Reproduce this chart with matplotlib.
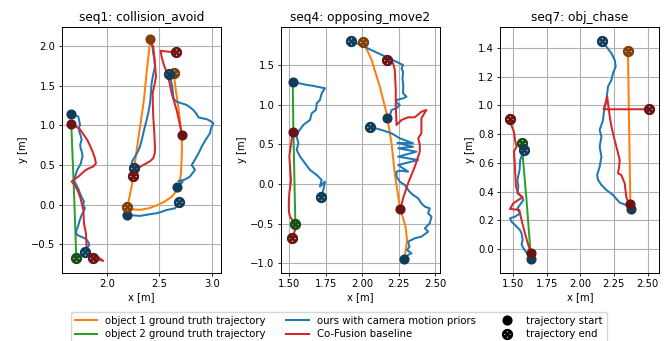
import numpy as np
import matplotlib
matplotlib.use("Agg")
import matplotlib.pyplot as plt
from matplotlib.lines import Line2D

# ---------------- data ----------------
titles = ["seq1: collision_avoid", "seq4: opposing_move2", "seq7: obj_chase"]
series_labels = ["object 1 ground truth trajectory", "object 2 ground truth trajectory",
                 "ours with camera motion priors", "Co-Fusion baseline"]
marker_labels = ["trajectory start", "trajectory end"]

# seq1 ---------------------------------------------------------------
seq1_obj1_a = [(2.413, 2.088), (2.38, 1.70), (2.352, 1.322), (2.283, 0.691), (2.235, 0.228), (2.194, -0.033)]
seq1_obj1_b = [(2.194, -0.033), (2.25, -0.06), (2.32, -0.065), (2.40, -0.045), (2.473, -0.01), (2.55, 0.04),
               (2.616, 0.10), (2.66, 0.17), (2.69, 0.25), (2.705, 0.40), (2.711, 0.565), (2.714, 0.72),
               (2.711, 0.880), (2.695, 1.06), (2.679, 1.238), (2.655, 1.45), (2.635, 1.668)]
seq1_obj2 = [(1.660, 1.019), (1.685, 0.20), (1.708, -0.677)]
seq1_ours_a = [(1.654, 1.146), (1.69, 1.13), (1.727, 1.112), (1.735, 1.06), (1.743, 1.007), (1.732, 0.96),
               (1.737, 0.923), (1.75, 0.87), (1.759, 0.818), (1.745, 0.76), (1.749, 0.712), (1.762, 0.66),
               (1.768, 0.607), (1.757, 0.56), (1.752, 0.523), (1.735, 0.48), (1.717, 0.439), (1.70, 0.37),
               (1.686, 0.312), (1.70, 0.27), (1.717, 0.228), (1.73, 0.19), (1.743, 0.144), (1.76, 0.09),
               (1.781, 0.039), (1.772, 0.0), (1.790, -0.045), (1.775, -0.09), (1.759, -0.130), (1.748, -0.17),
               (1.737, -0.214), (1.725, -0.27), (1.711, -0.319), (1.705, -0.35), (1.717, -0.382), (1.745, -0.40),
               (1.768, -0.412), (1.795, -0.43), (1.813, -0.454), (1.825, -0.48), (1.832, -0.508), (1.81, -0.55),
               (1.790, -0.593)]
seq1_ours_b = [(2.419, 2.05), (2.435, 1.98), (2.441, 1.912), (2.452, 1.83), (2.457, 1.743), (2.44, 1.64),
               (2.425, 1.533), (2.418, 1.40), (2.410, 1.280), (2.395, 1.17), (2.378, 1.070), (2.36, 0.98),
               (2.346, 0.902), (2.33, 0.81), (2.314, 0.733), (2.29, 0.66), (2.267, 0.607), (2.245, 0.56),
               (2.235, 0.523), (2.245, 0.49), (2.260, 0.460)]
seq1_ours_c = [(2.187, -0.130), (2.25, -0.135), (2.314, -0.142), (2.39, -0.125), (2.473, -0.108),
               (2.52, -0.09), (2.568, -0.067), (2.648, -0.046), (2.67, -0.01), (2.689, 0.035)]
seq1_ours_d = [(2.664, 0.227), (2.70, 0.26), (2.72, 0.285), (2.68, 0.30), (2.727, 0.31), (2.76, 0.33),
               (2.79, 0.354), (2.815, 0.40), (2.838, 0.44), (2.806, 0.50), (2.83, 0.55), (2.854, 0.607),
               (2.88, 0.67), (2.902, 0.733), (2.94, 0.82), (2.981, 0.902), (2.99, 0.96), (3.013, 1.03),
               (2.98, 1.06), (2.949, 1.08), (2.91, 1.09), (2.870, 1.104), (2.85, 1.15), (2.822, 1.196),
               (2.79, 1.23), (2.759, 1.259), (2.71, 1.28), (2.664, 1.30), (2.64, 1.33), (2.632, 1.364),
               (2.625, 1.45), (2.616, 1.533), (2.60, 1.60), (2.594, 1.646)]
seq1_cof_a = [(1.660, 1.019), (1.70, 0.99), (1.743, 0.952), (1.78, 0.88), (1.813, 0.817), (1.84, 0.74),
              (1.863, 0.670), (1.885, 0.59), (1.895, 0.523), (1.870, 0.481), (1.83, 0.46), (1.790, 0.430),
              (1.757, 0.39), (1.727, 0.354), (1.69, 0.32), (1.663, 0.291), (1.695, 0.249), (1.72, 0.18),
              (1.743, 0.102), (1.76, 0.02), (1.775, -0.067), (1.778, -0.15), (1.781, -0.235), (1.79, -0.30),
              (1.800, -0.361), (1.803, -0.45), (1.806, -0.529), (1.832, -0.614), (1.88, -0.645),
              (1.917, -0.664), (1.965, -0.710), (1.91, -0.69), (1.863, -0.677)]
seq1_cof_b = [(2.425, 2.03), (2.441, 1.996), (2.455, 1.80), (2.467, 1.617), (2.45, 1.50), (2.435, 1.407),
              (2.437, 1.25), (2.441, 1.112), (2.45, 0.92), (2.457, 0.733), (2.455, 0.65), (2.441, 0.586),
              (2.41, 0.55), (2.378, 0.523), (2.33, 0.49), (2.298, 0.460), (2.27, 0.42), (2.251, 0.367)]
seq1_cof_c = [(2.714, 0.880), (2.69, 1.04), (2.663, 1.196), (2.64, 1.30), (2.616, 1.407), (2.60, 1.51),
              (2.584, 1.617), (2.56, 1.70), (2.537, 1.785), (2.52, 1.87), (2.511, 1.944), (2.56, 1.935),
              (2.60, 1.93), (2.657, 1.925)]

# seq4 ---------------------------------------------------------------
seq4_obj1 = [(2.284, -0.946), (2.290, -0.916), (2.30, -0.80), (2.306, -0.706), (2.296, -0.538),
             (2.256, -0.285), (2.222, 0.136), (2.200, 0.515), (2.166, 0.894), (2.120, 1.230),
             (2.064, 1.567), (2.007, 1.798)]
seq4_obj2 = [(1.525, 1.29), (1.53, 0.65), (1.543, -0.503)]
seq4_ours_a = [(1.525, 1.290), (1.575, 1.27), (1.620, 1.252), (1.665, 1.24), (1.711, 1.222), (1.745, 1.210),
               (1.723, 1.146), (1.711, 1.062), (1.689, 1.020), (1.684, 0.936), (1.655, 0.894), (1.643, 0.810),
               (1.598, 0.747), (1.564, 0.662), (1.552, 0.599), (1.564, 0.515), (1.552, 0.431), (1.575, 0.347),
               (1.609, 0.263), (1.643, 0.178), (1.689, 0.115), (1.723, 0.052), (1.711, -0.032),
               (1.745, 0.031), (1.734, -0.074), (1.716, -0.167)]
seq4_ours_b = [(2.170, 0.838), (2.19, 0.87), (2.200, 0.936), (2.234, 0.957), (2.256, 0.999), (2.234, 1.03),
               (2.234, 1.062), (2.279, 1.083), (2.302, 1.104), (2.279, 1.146), (2.28, 1.25), (2.275, 1.33),
               (2.279, 1.42), (2.268, 1.46), (2.279, 1.504), (2.10, 1.66), (1.923, 1.811)]
seq4_ours_c = [(2.284, -0.946), (2.313, -0.895), (2.336, -0.874), (2.306, -0.832), (2.323, -0.79),
               (2.313, -0.727), (2.359, -0.684), (2.404, -0.664), (2.450, -0.601), (2.428, -0.558),
               (2.461, -0.495), (2.473, -0.411), (2.450, -0.369), (2.461, -0.306), (2.428, -0.285),
               (2.404, -0.243), (2.382, -0.179), (2.348, -0.138), (2.323, -0.096), (2.290, -0.011),
               (2.256, 0.031), (2.234, 0.093), (2.234, 0.157), (2.256, 0.169), (2.313, 0.157),
               (2.245, 0.241), (2.382, 0.304), (2.245, 0.346), (2.370, 0.409), (2.245, 0.452),
               (2.347, 0.47), (2.24, 0.52), (2.347, 0.515), (2.256, 0.578), (2.200, 0.641),
               (2.132, 0.683), (2.052, 0.725)]
seq4_cof_a = [(1.530, 0.654), (1.522, 0.60), (1.518, 0.557), (1.511, 0.473), (1.505, 0.40), (1.502, 0.347),
              (1.507, 0.221), (1.510, 0.13), (1.514, 0.052), (1.508, -0.03), (1.502, -0.116), (1.499, -0.20),
              (1.498, -0.285), (1.500, -0.36), (1.507, -0.411), (1.530, -0.474), (1.538, -0.53),
              (1.541, -0.579), (1.530, -0.64), (1.520, -0.684)]
seq4_cof_b = [(2.261, -0.314), (2.279, -0.179), (2.313, 0.010), (2.359, 0.220), (2.393, 0.409),
              (2.393, 0.50), (2.382, 0.578), (2.404, 0.641), (2.404, 0.75), (2.404, 0.831),
              (2.438, 0.936), (2.404, 0.914), (2.359, 0.843), (2.313, 0.843), (2.268, 0.809),
              (2.234, 0.746), (2.232, 0.85), (2.229, 0.977), (2.229, 1.188), (2.222, 1.441),
              (2.211, 1.525), (2.166, 1.567)]

# seq7 ---------------------------------------------------------------
seq7_obj1 = [(2.372, 0.313), (2.354, 1.381)]
seq7_obj2 = [(1.631, -0.030), (1.60, 0.35), (1.564, 0.741)]
seq7_ours_a = [(1.633, -0.072), (1.614, -0.044), (1.577, 0.007), (1.564, 0.030), (1.572, 0.063),
               (1.564, 0.109), (1.552, 0.132), (1.527, 0.156), (1.490, 0.190), (1.478, 0.214),
               (1.515, 0.225), (1.552, 0.247), (1.533, 0.283), (1.552, 0.307), (1.577, 0.341),
               (1.564, 0.364), (1.533, 0.388), (1.540, 0.434), (1.533, 0.480), (1.549, 0.550),
               (1.554, 0.620), (1.572, 0.666), (1.584, 0.687)]
seq7_ours_b = [(2.374, 0.276), (2.342, 0.306), (2.293, 0.323), (2.243, 0.376), (2.194, 0.411),
               (2.157, 0.446), (2.132, 0.481), (2.125, 0.515), (2.144, 0.573), (2.157, 0.643),
               (2.144, 0.713), (2.157, 0.782), (2.144, 0.829), (2.169, 0.898), (2.177, 0.968),
               (2.194, 1.038), (2.206, 1.131), (2.231, 1.177), (2.243, 1.224), (2.263, 1.270),
               (2.256, 1.316), (2.231, 1.363), (2.194, 1.409), (2.162, 1.451)]
seq7_cof_a = [(1.631, -0.030), (1.614, 0.028), (1.589, 0.109), (1.564, 0.202), (1.547, 0.272),
              (1.478, 0.279), (1.502, 0.318), (1.547, 0.346), (1.572, 0.360), (1.540, 0.388),
              (1.522, 0.434), (1.517, 0.527), (1.512, 0.620), (1.507, 0.678), (1.527, 0.713),
              (1.515, 0.759), (1.507, 0.817), (1.490, 0.857), (1.478, 0.903)]
seq7_cof_b = [(2.372, 0.313), (2.355, 0.33), (2.342, 0.36), (2.330, 0.457), (2.305, 0.515),
              (2.280, 0.527), (2.288, 0.57), (2.293, 0.620), (2.280, 0.67), (2.268, 0.713),
              (2.255, 0.76), (2.243, 0.806), (2.230, 0.86), (2.219, 0.922), (2.206, 1.015),
              (2.200, 1.061), (2.190, 1.02), (2.174, 0.973), (2.35, 0.973), (2.510, 0.973)]

# (segment, show start marker, show end marker) per series, per sequence
sequences = [
    {"obj1": [(seq1_obj1_a, True, True), (seq1_obj1_b, False, True)],
     "obj2": [(seq1_obj2, False, True)],
     "ours": [(seq1_ours_a, True, True), (seq1_ours_b, False, True), (seq1_ours_c, True, True), (seq1_ours_d, True, True)],
     "cof": [(seq1_cof_a, True, True), (seq1_cof_b, False, True), (seq1_cof_c, True, True)]},
    {"obj1": [(seq4_obj1, False, True)],
     "obj2": [(seq4_obj2, False, True)],
     "ours": [(seq4_ours_a, True, True), (seq4_ours_b, True, True), (seq4_ours_c, True, True)],
     "cof": [(seq4_cof_a, True, True), (seq4_cof_b, True, True)]},
    {"obj1": [(seq7_obj1, False, True)],
     "obj2": [(seq7_obj2, False, True)],
     "ours": [(seq7_ours_a, True, True), (seq7_ours_b, True, True)],
     "cof": [(seq7_cof_a, True, True), (seq7_cof_b, True, True)]},
]

xlims = [(1.569, 3.083), (1.443, 2.529), (1.406, 2.587)]
ylims = [(-0.859, 2.247), (-1.119, 1.987), (-0.165, 1.548)]
xticks = [[2.0, 2.5, 3.0], [1.50, 1.75, 2.00, 2.25, 2.50], [1.50, 1.75, 2.00, 2.25, 2.50]]
yticks = [[-0.5, 0.0, 0.5, 1.0, 1.5, 2.0], [-1.0, -0.5, 0.0, 0.5, 1.0, 1.5],
          [0.0, 0.2, 0.4, 0.6, 0.8, 1.0, 1.2, 1.4]]
xfmt = ["%.1f", "%.2f", "%.2f"]
yfmt = ["%.1f", "%.1f", "%.1f"]

# ---------------- style ----------------
keys = ["obj1", "obj2", "ours", "cof"]
colors = {"obj1": "#ff7f0e", "obj2": "#2ca02c", "ours": "#1f77b4", "cof": "#d62728"}


def dark(c, f=0.5):
    r, g, b = matplotlib.colors.to_rgb(c)
    return (r * f, g * f, b * f)


END_MARKER = r"$\otimes$"
W, H = 667, 341
fig = plt.figure(figsize=(W / 100, H / 100), dpi=100)
lefts = [61.7, 280.7, 500.3]
ax_w = 159.0
ax_top, ax_bot = 26.7, 272.7

for i, seq in enumerate(sequences):
    ax = fig.add_axes([lefts[i] / W, 1 - ax_bot / H, ax_w / W, (ax_bot - ax_top) / H])
    for k in keys:
        for seg, _, _ in seq[k]:
            p = np.array(seg)
            ax.plot(p[:, 0], p[:, 1], color=colors[k], lw=1.45, zorder=2)
    for k in keys:
        dc = dark(colors[k])
        for seg, s, e in seq[k]:
            p = np.array(seg)
            if s:
                ax.plot(p[0, 0], p[0, 1], "o", color=dc, ms=6.3, zorder=4)
            if e:
                ax.plot(p[-1, 0], p[-1, 1], marker=END_MARKER, color=dc, ms=7.1, ls="none", zorder=5)
    ax.set_xlim(*xlims[i])
    ax.set_ylim(*ylims[i])
    ax.set_xticks(xticks[i])
    ax.set_yticks(yticks[i])
    ax.set_xticklabels([xfmt[i] % v for v in xticks[i]])
    ax.set_yticklabels([(yfmt[i] % v).replace("-", "\u2212") for v in yticks[i]])
    ax.tick_params(labelsize=7.2, length=2.5, width=0.6, pad=2)
    ax.grid(True, color="#b0b0b0", lw=0.8)
    ax.set_axisbelow(True)
    ax.set_title(titles[i], fontsize=8.7, pad=4)
    ax.set_xlabel("x [m]", fontsize=7.2, labelpad=2)
    ax.set_ylabel("y [m]", fontsize=7.2, labelpad=2)
    for sp in ax.spines.values():
        sp.set_linewidth(0.7)

handles = [Line2D([], [], color=colors[k], lw=1.45) for k in keys]
handles += [Line2D([], [], marker="o", color="black", ls="none", ms=6.3),
            Line2D([], [], marker=END_MARKER, color="black", ls="none", ms=7.1)]
labels = series_labels + marker_labels
fig.legend(handles, labels, ncol=3, loc="upper center", bbox_to_anchor=(339 / W, 1 - 311.7 / H),
           borderaxespad=0, fontsize=7.3, handlelength=2.2, columnspacing=2.0, frameon=True,
           labelspacing=0.35)

fig.savefig("out.png", dpi=100)
